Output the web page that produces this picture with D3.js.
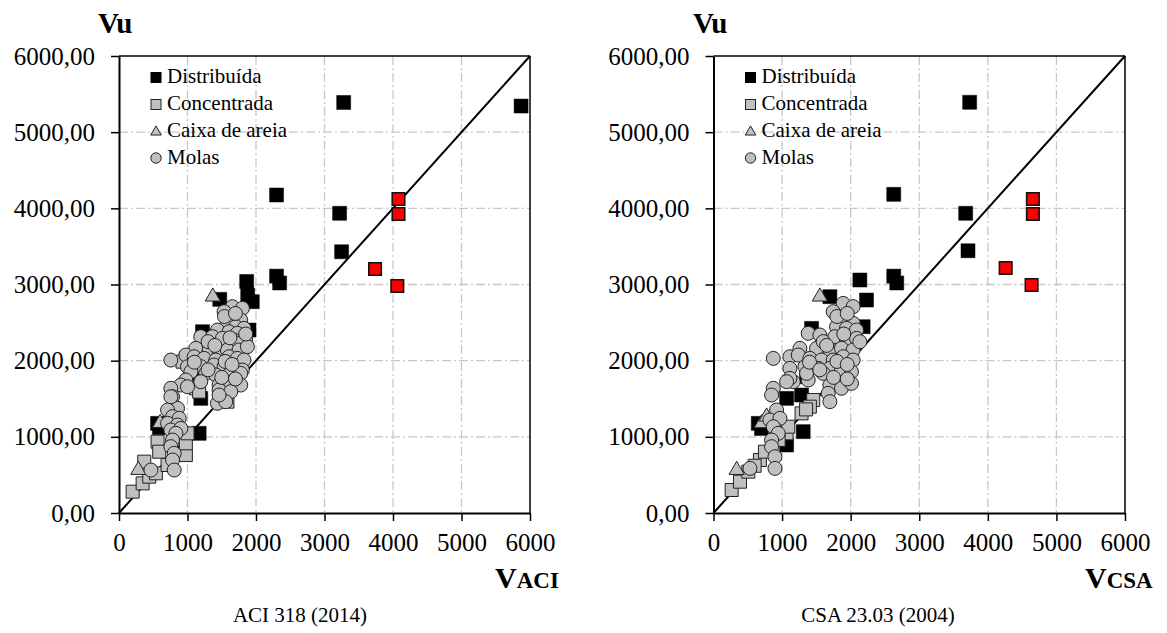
<!DOCTYPE html>
<html><head><meta charset="utf-8">
<script src="https://cdn.jsdelivr.net/npm/d3@7"></script>
<style>
body{margin:0;background:#fff}
svg{display:block}
svg text{font-family:"Liberation Serif","Times New Roman",Times,serif !important;fill:#000}
</style>
</head><body>
<svg id="c" width="1167" height="633"></svg>
<script>
// ---------- tick values / labels ----------
const xTicks = [0,1000,2000,3000,4000,5000,6000];
const xTickLabels = ["0","1000","2000","3000","4000","5000","6000"];
const yTicks = [0,1000,2000,3000,4000,5000,6000];
const yTickLabels = ["0,00","1000,00","2000,00","3000,00","4000,00","5000,00","6000,00"];
const legendLabels = ["Distribuída","Concentrada","Caixa de areia","Molas"];

// ---------- ACI 318 (2014) panel: [V_ACI, Vu] ----------
const aciDistribuida = [[3280,5390],[5870,5343],[2300,4175],[3220,3935],[3250,3430],[2300,3110],[2345,3020],
 [1864,3040],[1879,2862],[1946,2774],[1898,2402],[1219,2380],[1146,1790],[1194,1505],[1170,1046],[563,1177],
 [590,1120],[1471,2805],[1194,1877]];
const aciDistribuidaDestaque = [[4080,4122],[4080,3925],[3738,3203],[4063,2980]];
const aciConcentrada = [[199,280],[345,389],[442,477],[369,674],[563,936],[587,805],[539,521],[709,630],
 [976,761],[976,915],[1000,1046],[1121,1637],[976,2030],[1583,1462],[927,1987],[1170,1593]];
const aciCaixa = [[1369,2840],[282,564],[600,1180]];
const aciMolas = [[1655,2709],[1801,2687],[1534,2643],[1655,2555],[1777,2534],[1583,2490],[1704,2446],[1825,2424],
 [1437,2402],[1607,2380],[1728,2359],[1194,2315],[1364,2315],[1510,2293],[1680,2271],[1849,2271],[1728,2227],
 [1121,2162],[1316,2140],[1461,2118],[1583,2140],[1752,2140],[1874,2184],[976,2074],[1097,2052],[1243,2030],
 [1413,2008],[1607,2052],[1728,2030],[1825,2008],[757,2008],[1000,1921],[1194,1921],[1388,1943],[1534,1921],
 [1680,1877],[1801,1877],[1049,1855],[1267,1833],[1413,1812],[1607,1812],[1777,1833],[976,1746],[1194,1724],
 [1461,1680],[1631,1680],[1777,1680],[903,1680],[757,1637],[782,1527],[1000,1658],[1461,1615],[1485,1505],
 [1631,1593],[1437,1440],[1558,1461],[854,1374],[709,1352],[782,1265],[879,1243],[709,1177],[854,1155],
 [757,1090],[903,1111],[830,1046],[782,958],[757,871],[806,783],[782,696],[466,564],[806,564],[757,1527],[1461,1549],
 [1540,2580],[1700,2620],[1300,2250],[1620,2300],[1850,2350],[1400,2200],[1500,1780],[1700,1760],[1100,1980],
 [1300,1880],[1550,1990],[1650,1950]];

// ---------- CSA 23.03 (2004) panel: [V_CSA, Vu] ----------
const csaDistribuida = [[3735,5392],[2628,4184],[3677,3935],[3711,3443],[2628,3110],[2672,3020],
 [2134,3059],[2231,2796],[1697,2840],[2182,2446],[1430,2424],[1357,1790],[1066,1505],[1284,1549],[1308,1068],
 [1066,893],[653,1177],[700,1110]];
const csaDistribuidaDestaque = [[4657,4122],[4657,3925],[4260,3216],[4638,2993]];
const csaConcentrada = [[265,302],[386,411],[508,543],[677,696],[750,805],[1066,1046],[1284,1308],[1454,1483],
 [1405,1396],[1090,1133],[1350,1360],[950,960],[600,620]];
const csaCaixa = [[1551,2840],[338,564],[702,1177],[774,1265]];
const csaMolas = [[1891,2752],[2036,2709],[1745,2643],[1891,2555],[2036,2490],[1794,2446],[1939,2424],[2085,2402],
 [1381,2359],[1551,2337],[1769,2315],[1939,2271],[2085,2293],[1260,2162],[1503,2162],[1697,2140],[1866,2162],
 [2036,2140],[2134,2249],[1114,2052],[1236,2074],[872,2030],[1405,2030],[1575,2008],[1745,2008],[1891,2052],
 [2036,2008],[1114,1899],[1333,1921],[1527,1899],[1697,1899],[1866,1877],[2012,1855],[1163,1724],[1381,1746],
 [1600,1833],[1697,1680],[1866,1637],[2012,1702],[1672,1571],[1697,1462],[872,1637],[847,1549],[1114,1768],
 [920,1352],[823,1221],[969,1243],[872,1133],[944,1046],[847,958],[847,871],[896,739],[896,586],[532,586],
 [1066,1724],[1357,1833],[1800,2580],[1950,2620],[1600,2250],[1900,2350],[1650,2200],[1750,1780],[1950,1760],
 [1400,1980],[1550,1880],[1800,1990],[1950,1950]];

const panels = [
  {x0:119, x1:530, lab:"ACI", caption:"ACI 318 (2014)", capX:300, legX:156, vuX:98, labX:495,
   dist:aciDistribuida, red:aciDistribuidaDestaque, conc:aciConcentrada, caixa:aciCaixa, molas:aciMolas},
  {x0:713.5, x1:1125, lab:"CSA", caption:"CSA 23.03 (2004)", capX:878, legX:750.5, vuX:693, labX:1085,
   dist:csaDistribuida, red:csaDistribuidaDestaque, conc:csaConcentrada, caixa:csaCaixa, molas:csaMolas}
];

const FONT = "'Liberation Serif', 'Times New Roman', Times, serif";
const svg = d3.select("#c").style("font-family", FONT);
const GRAY = "#c0c0c0";
const yTop = 56, yBot = 513;

panels.forEach(p => {
  const x = d3.scaleLinear().domain([0,6000]).range([p.x0, p.x1]);
  const y = d3.scaleLinear().domain([0,6000]).range([yBot, yTop]);
  const g = svg.append("g");

  // grid (dash-dot)
  g.selectAll(".gx").data(xTicks.filter(d=>d>0 && d<6000)).enter().append("line")
    .attr("x1", d=>x(d)).attr("x2", d=>x(d)).attr("y1", yTop).attr("y2", yBot)
    .attr("stroke", "#c8c8c8").attr("stroke-width", 1.3).attr("stroke-dasharray", "9,3,2,3");
  g.selectAll(".gy").data(yTicks.filter(d=>d>0 && d<6000)).enter().append("line")
    .attr("y1", d=>y(d)).attr("y2", d=>y(d)).attr("x1", p.x0).attr("x2", p.x1)
    .attr("stroke", "#c8c8c8").attr("stroke-width", 1.3).attr("stroke-dasharray", "9,3,2,3");

  // frame top/right
  g.append("line").attr("x1", p.x0).attr("x2", p.x1).attr("y1", yTop).attr("y2", yTop)
    .attr("stroke", "#000").attr("stroke-width", 1.5);
  g.append("line").attr("x1", p.x1).attr("x2", p.x1).attr("y1", yTop).attr("y2", yBot)
    .attr("stroke", "#000").attr("stroke-width", 1.5);

  // diagonal
  g.append("line").attr("x1", x(0)).attr("y1", y(0)).attr("x2", x(6000)).attr("y2", y(6000))
    .attr("stroke", "#000").attr("stroke-width", 2);

  // axes
  const ax = g.append("g").attr("transform", `translate(0,${yBot})`)
    .call(d3.axisBottom(x).tickValues(xTicks).tickFormat((d,i)=>xTickLabels[i]).tickSize(8).tickSizeOuter(0).tickPadding(12));
  const ay = g.append("g").attr("transform", `translate(${p.x0},0)`)
    .call(d3.axisLeft(y).tickValues(yTicks).tickFormat((d,i)=>yTickLabels[i]).tickSize(8).tickSizeOuter(0).tickPadding(16));
  [ax, ay].forEach(a => {
    a.attr("font-family", null).attr("font-size", null);
    a.select(".domain").attr("stroke", "#000").attr("stroke-width", 2);
    a.selectAll(".tick line").attr("stroke", "#000").attr("stroke-width", 1.5);
    a.selectAll("text").style("font-family", FONT).style("font-size", "25px").attr("fill","#000");
  });

  // Distribuída (black squares)
  g.selectAll(".d").data(p.dist).enter().append("path")
    .attr("d", d3.symbol().type(d3.symbolSquare).size(14*14)()).attr("transform", d=>`translate(${x(d[0])},${y(d[1])})`)
    .attr("fill", "#000").attr("stroke", "#000").attr("stroke-width", 0.5);
  // Concentrada (gray squares)
  g.selectAll(".cq").data(p.conc).enter().append("path")
    .attr("d", d3.symbol().type(d3.symbolSquare).size(13*13)()).attr("transform", d=>`translate(${x(d[0])},${y(d[1])})`)
    .attr("fill", GRAY).attr("stroke", "#222").attr("stroke-width", 1);
  // Caixa de areia (triangles)
  g.selectAll(".t").data(p.caixa).enter().append("path")
    .attr("d", d3.symbol().type(d3.symbolTriangle).size(100)()).attr("transform", d=>`translate(${x(d[0])},${y(d[1])})`)
    .attr("fill", GRAY).attr("stroke", "#222").attr("stroke-width", 1);
  // Molas (circles)
  g.selectAll(".m").data(p.molas).enter().append("circle")
    .attr("cx", d=>x(d[0])).attr("cy", d=>y(d[1])).attr("r", 7)
    .attr("fill", GRAY).attr("stroke", "#222").attr("stroke-width", 1);
  // highlighted Distribuída (red)
  g.selectAll(".r").data(p.red).enter().append("path")
    .attr("d", d3.symbol().type(d3.symbolSquare).size(12.5*12.5)()).attr("transform", d=>`translate(${x(d[0])},${y(d[1])})`)
    .attr("fill", "#ff0000").attr("stroke", "#111").attr("stroke-width", 1.6);

  // legend
  const legY = [83, 110, 137, 164];
  const lg = g.append("g");
  lg.append("rect").attr("x", p.legX-5.5).attr("y", legY[0]-11).attr("width", 11).attr("height", 11).attr("fill", "#000");
  lg.append("rect").attr("x", p.legX-5).attr("y", legY[1]-10.5).attr("width", 10).attr("height", 10)
    .attr("fill", GRAY).attr("stroke", "#222").attr("stroke-width", 1);
  lg.append("path").attr("d", d3.symbol().type(d3.symbolTriangle).size(48)())
    .attr("transform", `translate(${p.legX},${legY[2]-5})`).attr("fill", GRAY).attr("stroke", "#222").attr("stroke-width", 1);
  lg.append("circle").attr("cx", p.legX).attr("cy", legY[3]-6).attr("r", 5.2)
    .attr("fill", GRAY).attr("stroke", "#222").attr("stroke-width", 1);
  lg.selectAll("text").data(legendLabels).enter().append("text")
    .attr("x", p.legX+11).attr("y", (d,i)=>legY[i]).style("font-size", "21px").text(d=>d);

  // axis titles
  g.append("text").attr("x", p.vuX).attr("y", 33).style("font-size", "29px").attr("font-weight", "bold").text("Vu");
  const t = g.append("text").attr("x", p.labX).attr("y", 588).attr("font-weight", "bold");
  t.append("tspan").style("font-size", "30px").text("V");
  t.append("tspan").style("font-size", "23px").text(p.lab);

  // caption
  g.append("text").attr("x", p.capX).attr("y", 622).attr("text-anchor", "middle").style("font-size", "21px").text(p.caption);
});
</script>
</body></html>
